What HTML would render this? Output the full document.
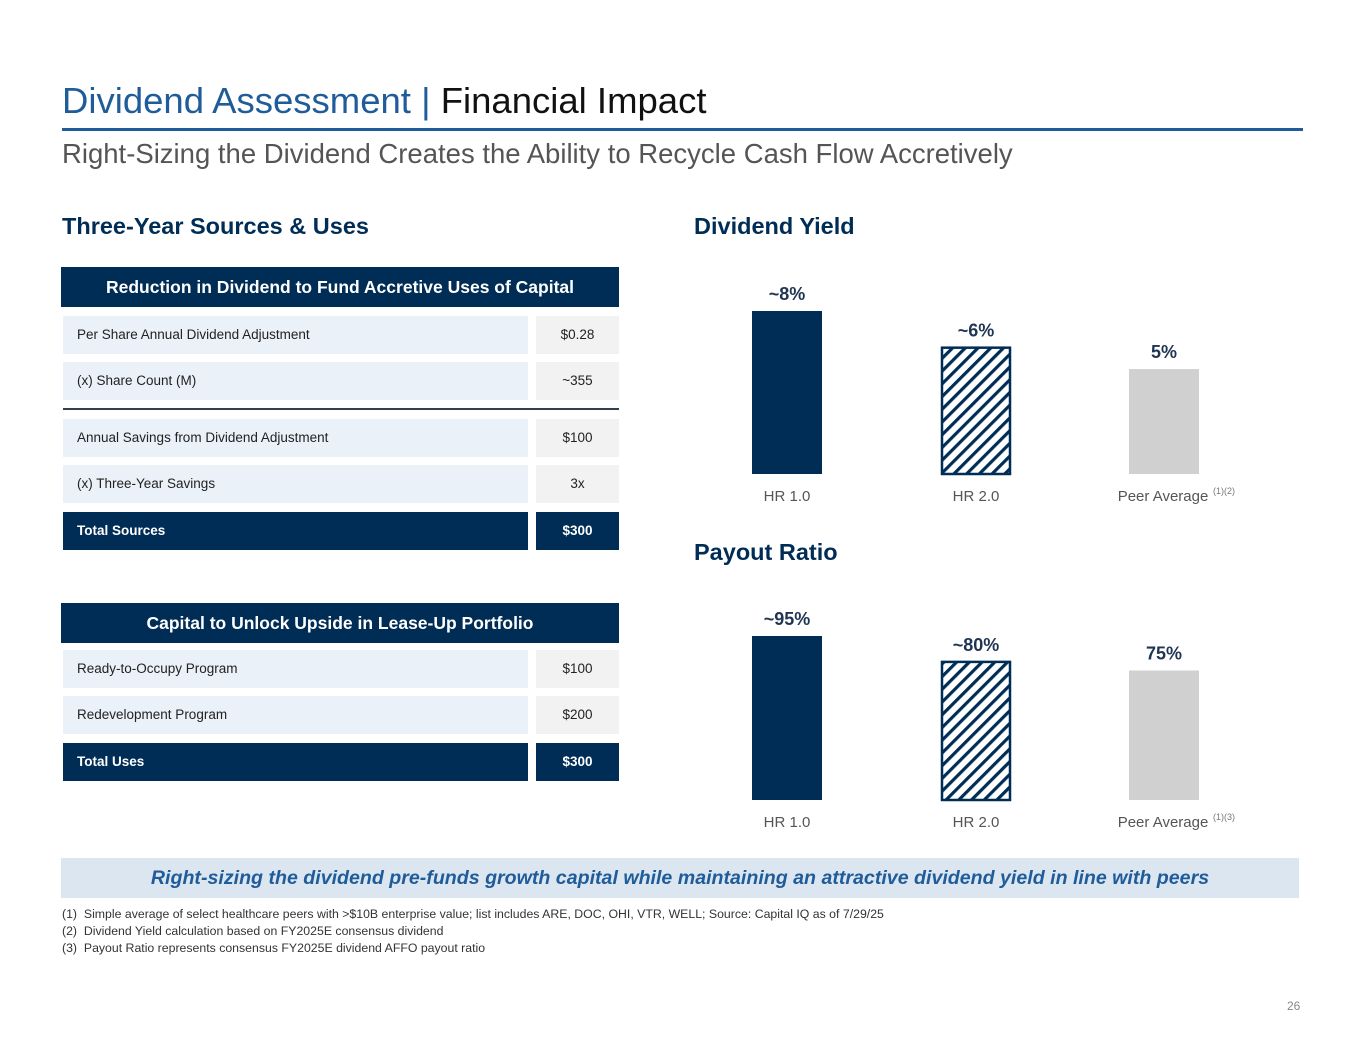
<!DOCTYPE html>
<html><head><meta charset="utf-8"><style>
body{margin:0;width:1365px;height:1055px;background:#fff;font-family:"Liberation Sans",sans-serif;position:relative;overflow:hidden}
.a{position:absolute;white-space:nowrap}
.row{position:absolute;left:63px;width:465px;height:38px;background:#EAF1F9;font-size:13.5px;color:#222;line-height:38px;padding-left:14px;box-sizing:border-box}
.val{position:absolute;left:536px;width:83px;height:38px;background:#F2F2F2;font-size:13.5px;color:#222;line-height:38px;text-align:center}
.tot{background:#002D56;color:#fff;font-weight:bold}
.hdr{position:absolute;left:61px;width:558px;height:40px;background:#002D56;color:#fff;font-weight:bold;font-size:17.5px;line-height:40px;text-align:center}
.sec{position:absolute;font-weight:bold;font-size:23.5px;color:#002D56}
.foot{font-size:12.3px;color:#333}
</style></head><body>
<div class="a" style="left:62px;top:80px;font-size:36.5px;color:#1F5C99">Dividend Assessment | <span style="color:#111">Financial Impact</span></div>
<div class="a" style="left:62px;top:128px;width:1241px;height:3px;background:#1F5C99"></div>
<div class="a" style="left:62px;top:138px;font-size:27.5px;color:#555">Right-Sizing the Dividend Creates the Ability to Recycle Cash Flow Accretively</div>

<div class="a sec" style="left:62px;top:213px">Three-Year Sources &amp; Uses</div>
<div class="hdr" style="top:267px">Reduction in Dividend to Fund Accretive Uses of Capital</div>
<div class="row" style="top:316px">Per Share Annual Dividend Adjustment</div><div class="val" style="top:316px">$0.28</div>
<div class="row" style="top:362px">(x) Share Count (M)</div><div class="val" style="top:362px">~355</div>
<div class="a" style="left:63px;top:408px;width:556px;height:2px;background:#333f4f"></div>
<div class="row" style="top:419px">Annual Savings from Dividend Adjustment</div><div class="val" style="top:419px">$100</div>
<div class="row" style="top:465px">(x) Three-Year Savings</div><div class="val" style="top:465px">3x</div>
<div class="row tot" style="top:512px">Total Sources</div><div class="val tot" style="top:512px">$300</div>

<div class="hdr" style="top:603px">Capital to Unlock Upside in Lease-Up Portfolio</div>
<div class="row" style="top:650px">Ready-to-Occupy Program</div><div class="val" style="top:650px">$100</div>
<div class="row" style="top:696px">Redevelopment Program</div><div class="val" style="top:696px">$200</div>
<div class="row tot" style="top:743px">Total Uses</div><div class="val tot" style="top:743px">$300</div>

<div class="a sec" style="left:694px;top:213px">Dividend Yield</div>
<div class="a sec" style="left:694px;top:539px">Payout Ratio</div>

<svg class="a" style="left:0;top:0" width="1365" height="1055">
<defs><pattern id="hatch" width="9" height="9" patternUnits="userSpaceOnUse" patternTransform="rotate(45)"><rect width="9" height="9" fill="#fff"/><rect width="3.2" height="9" fill="#002D56"/></pattern></defs>
<g id="g1"></g><g id="g2"></g>
</svg>

<div class="a" style="left:61px;top:858px;width:1238px;height:40px;background:#DCE6F0;text-align:center;line-height:40px;font-weight:bold;font-style:italic;font-size:19.6px;color:#1F5C99">Right-sizing the dividend pre-funds growth capital while maintaining an attractive dividend yield in line with peers</div>
<div class="a foot" style="left:62px;top:907px">(1)&nbsp;&nbsp;Simple average of select healthcare peers with &gt;$10B enterprise value; list includes ARE, DOC, OHI, VTR, WELL; Source: Capital IQ as of 7/29/25</div>
<div class="a foot" style="left:62px;top:924px">(2)&nbsp;&nbsp;Dividend Yield calculation based on FY2025E consensus dividend</div>
<div class="a foot" style="left:62px;top:941px">(3)&nbsp;&nbsp;Payout Ratio represents consensus FY2025E dividend AFFO payout ratio</div>
<div class="a" style="left:1287px;top:999px;font-size:12px;color:#888">26</div>

<script>
const categories=["HR 1.0","HR 2.0","Peer Average"];
const yieldValues=[8,6.2,5.15];
const yieldLabels=["~8%","~6%","5%"];
const payoutValues=[95,80,75];
const payoutLabels=["~95%","~80%","75%"];
const NS="http://www.w3.org/2000/svg";
const fills=["#002D56","url(#hatch)","#D0D0D0"];
const xs=[752,941,1129];
function draw(gid,vals,labs,base,pxPerUnit,sup){
  const g=document.getElementById(gid);
  vals.forEach((v,i)=>{
    const h=v*pxPerUnit, y=base-h;
    const r=document.createElementNS(NS,"rect");
    
    
    r.setAttribute("x",xs[i]+(i==1?1:0));r.setAttribute("y",y);r.setAttribute("width",i==1?68:70);r.setAttribute("height",h);
    r.setAttribute("fill",fills[i]);
    if(i==1){r.setAttribute("stroke","#002D56");r.setAttribute("stroke-width","2.5");}
    g.appendChild(r);
    const t=document.createElementNS(NS,"text");
    
    
    t.setAttribute("x",xs[i]+35);t.setAttribute("y",y-11);t.setAttribute("text-anchor","middle");
    t.setAttribute("font-family","Liberation Sans, sans-serif");t.setAttribute("font-weight","bold");t.setAttribute("font-size","18");t.setAttribute("fill","#1F3552");
    t.textContent=labs[i];g.appendChild(t);
    const c=document.createElementNS(NS,"text");
    
    
    c.setAttribute("x",xs[i]+35+(i==2?-1:0));c.setAttribute("y",base+27);c.setAttribute("text-anchor","middle");
    c.setAttribute("font-family","Liberation Sans, sans-serif");c.setAttribute("font-size","15");c.setAttribute("fill","#555");
    c.textContent=categories[i];g.appendChild(c);
  });
  const s=document.createElementNS(NS,"text");
  
  
  s.setAttribute("x",1213);s.setAttribute("y",base+20);s.setAttribute("font-family","Liberation Sans, sans-serif");s.setAttribute("font-size","9");s.setAttribute("fill","#777");
  s.textContent=sup;g.appendChild(s);
}
draw("g1",yieldValues,yieldLabels,474,163/8,"(1)(2)");
draw("g2",payoutValues,payoutLabels,800,164/95,"(1)(3)");
</script>
</body></html>
